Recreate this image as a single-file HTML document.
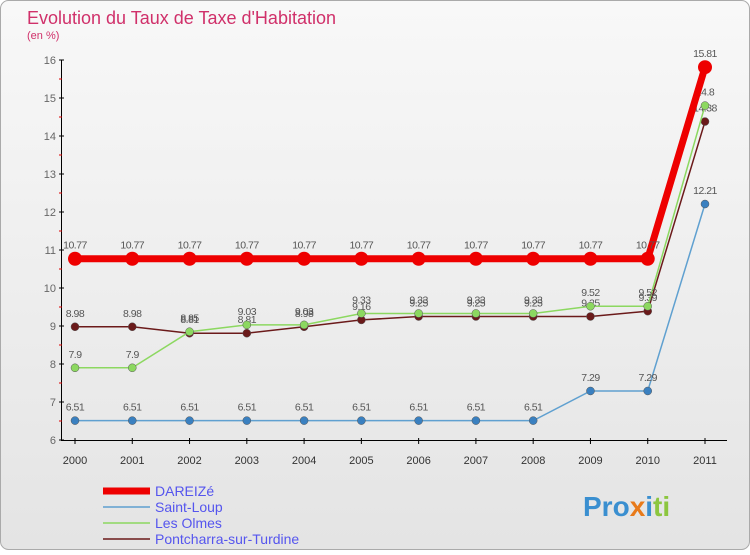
<!DOCTYPE html>
<html><head><meta charset="utf-8"><style>
body{margin:0;width:750px;height:550px;overflow:hidden;font-family:"Liberation Sans",sans-serif}
</style></head><body>
<svg id="c" width="750" height="550" xmlns="http://www.w3.org/2000/svg">
<defs><linearGradient id="bg" x1="0" y1="0" x2="0" y2="1"><stop offset="0" stop-color="#f8f8f8"/><stop offset="1" stop-color="#e4e4e4"/></linearGradient></defs>
<rect x="0.5" y="0.5" width="749" height="549" rx="8" fill="url(#bg)" stroke="#aaa"/>
<text x="27" y="24" font-size="18" fill="#d0306a">Evolution du Taux de Taxe d'Habitation</text>
<text x="27" y="39" font-size="11" fill="#d0306a">(en %)</text>
<g id="axes"></g><g id="series"></g><g id="legend"></g>
<text x="583" y="516" font-size="28" font-weight="bold" fill="#3a8fd0">Pro<tspan fill="#e87a1a">x</tspan><tspan fill="#3a8fd0">i</tspan><tspan fill="#8cc63f">ti</tspan></text>
</svg>
<script>
const years=[2000,2001,2002,2003,2004,2005,2006,2007,2008,2009,2010,2011];
const yTicks=[6,7,8,9,10,11,12,13,14,15,16];
const dareize=[10.77,10.77,10.77,10.77,10.77,10.77,10.77,10.77,10.77,10.77,10.77,15.81];
const saintLoup=[6.51,6.51,6.51,6.51,6.51,6.51,6.51,6.51,6.51,7.29,7.29,12.21];
const lesOlmes=[7.9,7.9,8.85,9.03,9.03,9.33,9.33,9.33,9.33,9.52,9.52,14.8];
const pontcharra=[8.98,8.98,8.81,8.81,8.98,9.16,9.25,9.25,9.25,9.25,9.39,14.38];
const names=["DAREIZé","Saint-Loup","Les Olmes","Pontcharra-sur-Turdine"];
const NS="http://www.w3.org/2000/svg";
const x=i=>75+i*(630/11);
const y=v=>440-(v-6)*38;
function mk(t,a,p){const e=document.createElementNS(NS,t);for(const k in a)e.setAttribute(k,a[k]);p.appendChild(e);return e;}
const ax=document.getElementById('axes');
const axisLine=mk('path',{d:`M61.5 ${y(16)}V440.5H727`,stroke:'#000',fill:'none'},ax);


yTicks.forEach((v,k)=>{
 const tk=mk('line',{x1:59,x2:64,y1:y(v),y2:y(v),stroke:'#000'},ax);
 
 
 if(k<yTicks.length-1){
  const mn=mk('line',{x1:59,x2:62,y1:y(v+0.5),y2:y(v+0.5),stroke:'#d00'},ax);
  
  
 }
 const t=mk('text',{x:56,y:y(v)+4,'font-size':11,'text-anchor':'end',fill:'#666'},ax);
 
 
 t.textContent=v;
});
years.forEach((yr,i)=>{
 const t=mk('text',{x:x(i),y:464,'font-size':11,'text-anchor':'middle',fill:'#333'},ax);
 
 
 t.textContent=yr;
 const k=mk('line',{x1:x(i),x2:x(i),y1:438,y2:444,stroke:'#000'},ax);
 
 
});
const S=document.getElementById('series');
const defs=[[pontcharra,'#6b1a1a','#6b1a1a',1.5,4],[lesOlmes,'#8cd860','#8cd860',1.5,4],[saintLoup,'#5fa0d0','#3a80c0',1.5,4],[dareize,'#ee0000','#ee0000',7,7]];
const snames=['series-pontcharra','series-les-olmes','series-saint-loup','series-dareize'];
defs.forEach(([d,c,pc,w,r],si)=>{
 const g=mk('g',{},S);
 
 
 const p=mk('polyline',{points:d.map((v,i)=>x(i)+','+y(v)).join(' '),fill:'none',stroke:c,'stroke-width':w},g);
 
 
 d.forEach((v,i)=>{
  const m=mk('circle',{cx:x(i),cy:y(v),r:r,fill:pc,stroke:r>5?'none':'#555','stroke-width':0.5},g);
  
  
  const t=mk('text',{x:x(i),y:y(v)-10,'font-size':10.5,'text-anchor':'middle',fill:'#555','letter-spacing':'-0.5'},g);
  
  
  t.textContent=v;
 });
});
const L=document.getElementById('legend');
const lc=['#ee0000','#5fa0d0','#8cd860','#6b1a1a'],lw=[7,1.5,1.5,1.5];
names.forEach((n,i)=>{
 const yy=491+i*16;
 const l=mk('line',{x1:103,x2:150,y1:yy,y2:yy,stroke:lc[i],'stroke-width':lw[i]},L);
 
 
 const t=mk('text',{x:155,y:yy+5,'font-size':14,fill:'#5555ee'},L);
 
 
 t.textContent=n;
});
</script>
</body></html>
